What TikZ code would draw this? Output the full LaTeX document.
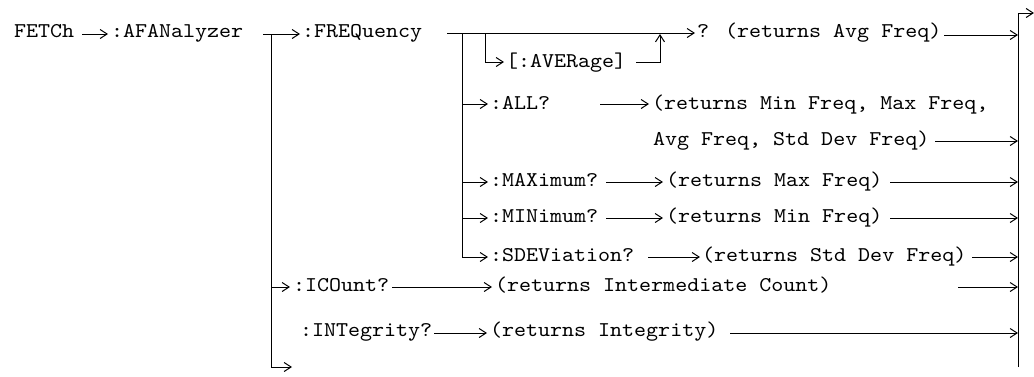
\documentclass[tikz,border=0pt]{standalone}
\usepackage{fontspec}
\newfontfamily\courfont{lmmono10-regular}[Extension=.otf,FakeStretch=1.09]
\usetikzlibrary{arrows.meta}
\begin{document}
\begin{tikzpicture}[x=1pt,y=-1pt,
  txt/.style={anchor=base west,inner sep=0pt,outer sep=0pt,font=\courfont\fontsize{21}{24}\selectfont},
  conn/.style={line width=1pt},
  arr/.style={conn,-{Straight Barb[length=7pt,width=9pt,line width=1pt]}}]
\useasboundingbox (0,0) rectangle (1034,376);
% row levels
\coordinate (yRow0) at (0,34);
\coordinate (yTop) at (0,33);
\coordinate (yAvgOut) at (0,35);
\coordinate (yAver) at (0,62);
\coordinate (yAll) at (0,104);
\coordinate (yAll2) at (0,141);
\coordinate (yMax) at (0,182);
\coordinate (yMin) at (0,218);
\coordinate (ySdev) at (0,257);
\coordinate (yIc) at (0,287);
\coordinate (yInt) at (0,333);
% junction points
\coordinate (ta) at (271,34);
\coordinate (tab) at (271,367);
\coordinate (last) at (292,367);
\coordinate (tf) at (462,33);
\coordinate (tv) at (485,33);
\coordinate (up) at (660,34);
\coordinate (bustop) at (1018,13);
\coordinate (busbot) at (1018,367);
\coordinate (out) at (1034,13);
% texts
\node[txt] (fetch) at (14,37) {FETCh};
\node[txt] (afan) at (111,37) {:AFANalyzer};
\node[txt] (freq) at (302,37) {:FREQuency};
\node[txt] (avg) at (697,37) {? (returns Avg Freq)};
\node[txt] (aver) at (506,67) {[:AVERage]};
\node[txt] (all) at (490,109) {:ALL?};
\node[txt] (allr) at (652,109) {(returns Min Freq, Max Freq,};
\node[txt] (allr2) at (653,145) {Avg Freq, Std Dev Freq)};
\node[txt] (max) at (490,186) {:MAXimum?};
\node[txt] (maxr) at (666,186) {(returns Max Freq)};
\node[txt] (min) at (490,222) {:MINimum?};
\node[txt] (minr) at (666,222) {(returns Min Freq)};
\node[txt] (sdev) at (490,261) {:SDEViation?};
\node[txt] (sdevr) at (702,261) {(returns Std Dev Freq)};
\node[txt] (icount) at (293,291) {:ICOunt?};
\node[txt] (icountr) at (495,291) {(returns Intermediate Count)};
\node[txt] (integ) at (300,336) {:INTegrity?};
\node[txt] (integr) at (490,336) {(returns Integrity)};
% main chain
\draw[arr] ([xshift=8pt]fetch.east |- yRow0) -- ([xshift=-3pt]afan.west |- yRow0);
\draw[arr] ([xshift=20pt]afan.east |- yRow0) -- ([xshift=-2pt]freq.west |- yRow0);
\draw[conn] (ta) -- (tab);
\draw[arr] (tab) -- (last);
\draw[arr] (ta |- yIc) -- ([xshift=-3pt]icount.west |- yIc);
\draw[arr] ([xshift=3pt]icount.east |- yIc) -- ([xshift=-3pt]icountr.west |- yIc);
\draw[arr] ([xshift=127pt]icountr.east |- yIc) -- (bustop |- yIc);
\draw[arr] ([xshift=2pt]integ.east |- yInt) -- ([xshift=-3pt]integr.west |- yInt);
\draw[arr] ([xshift=12pt]integr.east |- yInt) -- (bustop |- yInt);
% FREQuency branches
\draw[arr] ([xshift=25pt]freq.east |- yTop) -- ([xshift=-2pt]avg.west |- yTop);
\draw[arr] (tv) -- (tv |- yAver) -- ([xshift=-2pt]aver.west |- yAver);
\draw[arr] ([xshift=10pt]aver.east |- yAver) -- (up |- yAver) -- (up);
\draw[arr] ([xshift=3pt]avg.east |- yAvgOut) -- (bustop |- yAvgOut);
\draw[arr] (tf) -- (tf |- ySdev) -- ([xshift=-2pt]sdev.west |- ySdev);
\draw[arr] (tf |- yAll) -- ([xshift=-2pt]all.west |- yAll);
\draw[arr] ([xshift=50pt]all.east |- yAll) -- ([xshift=-3pt]allr.west |- yAll);
\draw[arr] ([xshift=6pt]allr2.east |- yAll2) -- (bustop |- yAll2);
\draw[arr] (tf |- yMax) -- ([xshift=-2pt]max.west |- yMax);
\draw[arr] ([xshift=8pt]max.east |- yMax) -- ([xshift=-3pt]maxr.west |- yMax);
\draw[arr] ([xshift=8pt]maxr.east |- yMax) -- (bustop |- yMax);
\draw[arr] (tf |- yMin) -- ([xshift=-2pt]min.west |- yMin);
\draw[arr] ([xshift=8pt]min.east |- yMin) -- ([xshift=-3pt]minr.west |- yMin);
\draw[arr] ([xshift=8pt]minr.east |- yMin) -- (bustop |- yMin);
\draw[arr] ([xshift=14pt]sdev.east |- ySdev) -- ([xshift=-2pt]sdevr.west |- ySdev);
\draw[arr] ([xshift=6pt]sdevr.east |- ySdev) -- (bustop |- ySdev);
% output bus
\draw[conn] (busbot) -- (bustop);
\draw[arr] (bustop) -- (out);
\end{tikzpicture}
\end{document}
